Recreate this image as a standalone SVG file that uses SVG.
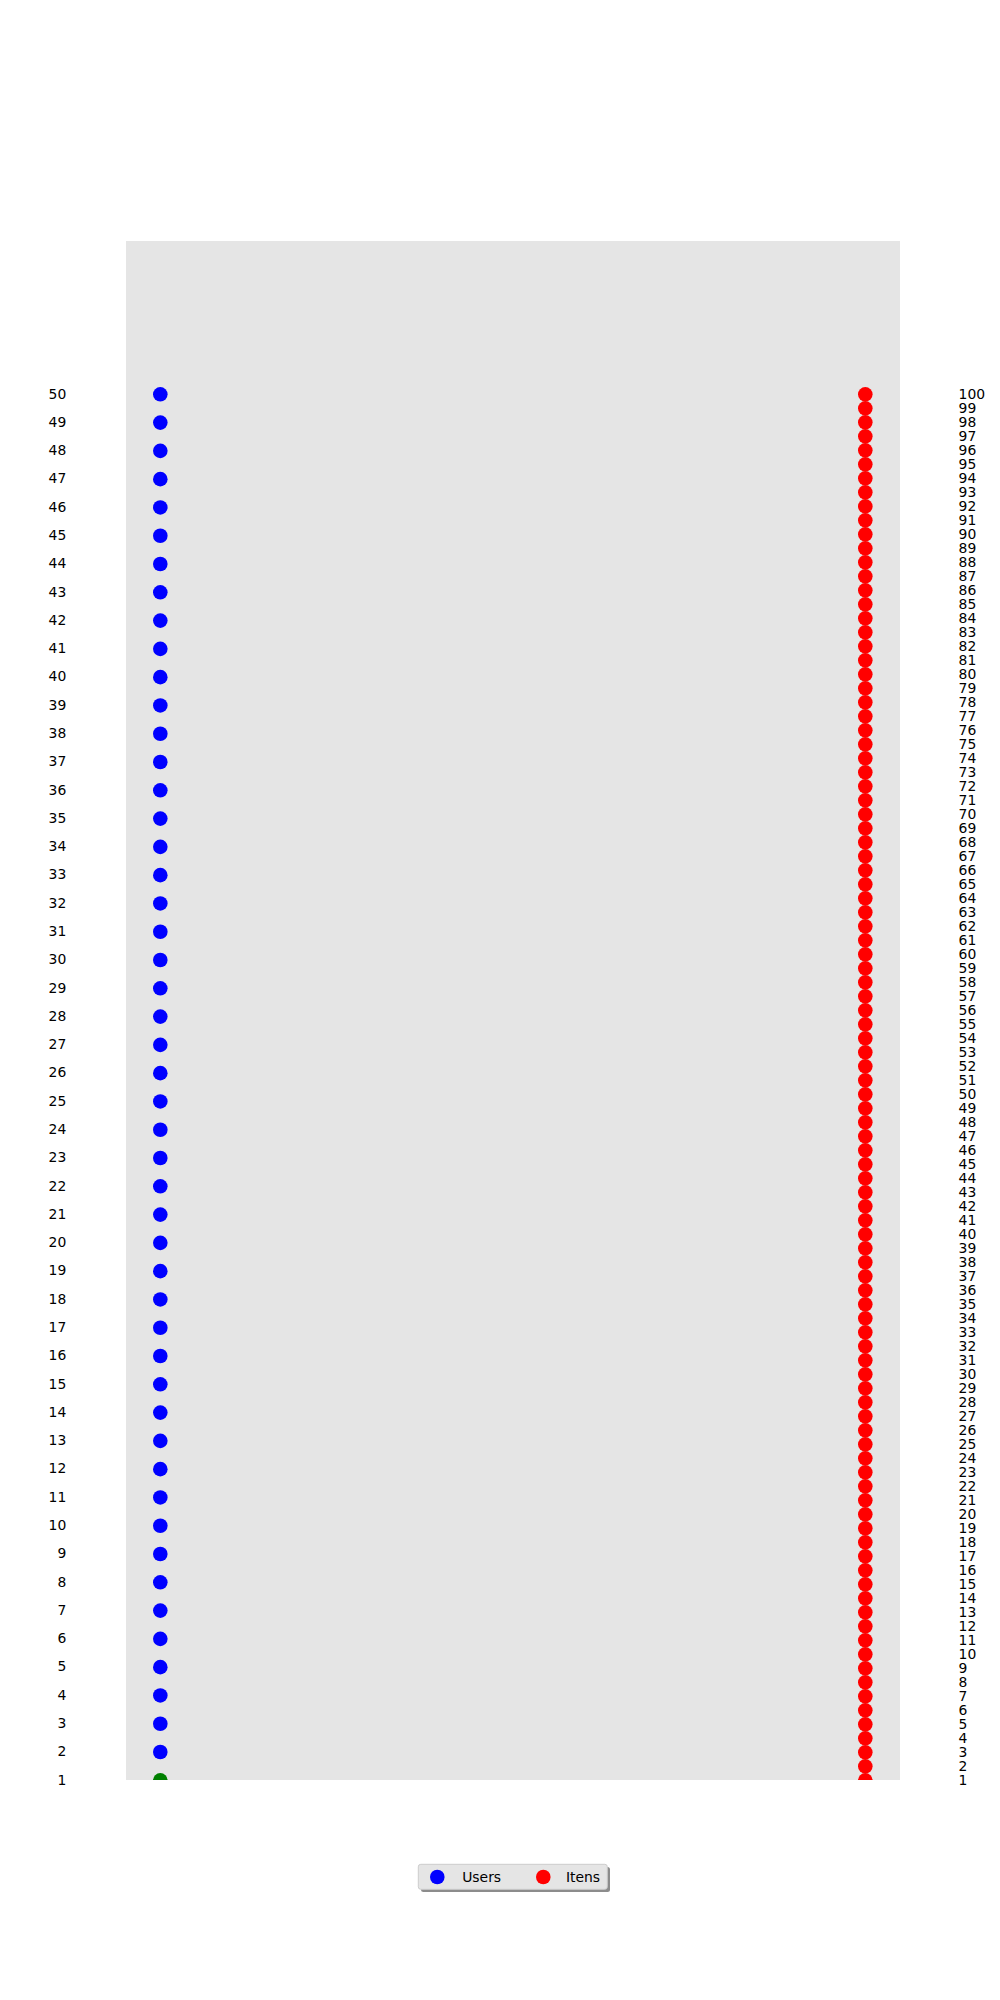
<svg xmlns="http://www.w3.org/2000/svg" width="1000" height="2000" viewBox="0 0 1000 2000">
<style>
.u{fill:#0000ff}
.i{fill:#ff0000}
.g{fill:#008000}
text{font-family:"DejaVu Sans","Liberation Sans",sans-serif;font-size:13.9px;fill:#000}
.ul{text-anchor:end}
.il{text-anchor:start}
.lg{font-size:13.9px}
</style>
<defs>
<clipPath id="ax"><rect x="126" y="241" width="774" height="1539"/></clipPath>
</defs>
<rect width="1000" height="2000" fill="#ffffff"/>
<rect id="axes" x="126" y="241" width="774" height="1539" fill="#e5e5e5"/>
<g id="connectors"></g>
<g id="users">
<g id="user-1"><circle class="g" cx="160.3" cy="1780.3" r="7.3" clip-path="url(#ax)"/><text class="ul" x="66.3" y="1784.6">1</text></g>
<g id="user-2" transform="translate(0,1752.01)"><circle class="u" cx="160.3" r="7.3"/><text class="ul" x="66.3" y="4.3">2</text></g>
<g id="user-3" transform="translate(0,1723.73)"><circle class="u" cx="160.3" r="7.3"/><text class="ul" x="66.3" y="4.3">3</text></g>
<g id="user-4" transform="translate(0,1695.44)"><circle class="u" cx="160.3" r="7.3"/><text class="ul" x="66.3" y="4.3">4</text></g>
<g id="user-5" transform="translate(0,1667.16)"><circle class="u" cx="160.3" r="7.3"/><text class="ul" x="66.3" y="4.3">5</text></g>
<g id="user-6" transform="translate(0,1638.87)"><circle class="u" cx="160.3" r="7.3"/><text class="ul" x="66.3" y="4.3">6</text></g>
<g id="user-7" transform="translate(0,1610.59)"><circle class="u" cx="160.3" r="7.3"/><text class="ul" x="66.3" y="4.3">7</text></g>
<g id="user-8" transform="translate(0,1582.30)"><circle class="u" cx="160.3" r="7.3"/><text class="ul" x="66.3" y="4.3">8</text></g>
<g id="user-9" transform="translate(0,1554.01)"><circle class="u" cx="160.3" r="7.3"/><text class="ul" x="66.3" y="4.3">9</text></g>
<g id="user-10" transform="translate(0,1525.73)"><circle class="u" cx="160.3" r="7.3"/><text class="ul" x="66.3" y="4.3">10</text></g>
<g id="user-11" transform="translate(0,1497.44)"><circle class="u" cx="160.3" r="7.3"/><text class="ul" x="66.3" y="4.3">11</text></g>
<g id="user-12" transform="translate(0,1469.16)"><circle class="u" cx="160.3" r="7.3"/><text class="ul" x="66.3" y="4.3">12</text></g>
<g id="user-13" transform="translate(0,1440.87)"><circle class="u" cx="160.3" r="7.3"/><text class="ul" x="66.3" y="4.3">13</text></g>
<g id="user-14" transform="translate(0,1412.59)"><circle class="u" cx="160.3" r="7.3"/><text class="ul" x="66.3" y="4.3">14</text></g>
<g id="user-15" transform="translate(0,1384.30)"><circle class="u" cx="160.3" r="7.3"/><text class="ul" x="66.3" y="4.3">15</text></g>
<g id="user-16" transform="translate(0,1356.01)"><circle class="u" cx="160.3" r="7.3"/><text class="ul" x="66.3" y="4.3">16</text></g>
<g id="user-17" transform="translate(0,1327.73)"><circle class="u" cx="160.3" r="7.3"/><text class="ul" x="66.3" y="4.3">17</text></g>
<g id="user-18" transform="translate(0,1299.44)"><circle class="u" cx="160.3" r="7.3"/><text class="ul" x="66.3" y="4.3">18</text></g>
<g id="user-19" transform="translate(0,1271.16)"><circle class="u" cx="160.3" r="7.3"/><text class="ul" x="66.3" y="4.3">19</text></g>
<g id="user-20" transform="translate(0,1242.87)"><circle class="u" cx="160.3" r="7.3"/><text class="ul" x="66.3" y="4.3">20</text></g>
<g id="user-21" transform="translate(0,1214.59)"><circle class="u" cx="160.3" r="7.3"/><text class="ul" x="66.3" y="4.3">21</text></g>
<g id="user-22" transform="translate(0,1186.30)"><circle class="u" cx="160.3" r="7.3"/><text class="ul" x="66.3" y="4.3">22</text></g>
<g id="user-23" transform="translate(0,1158.01)"><circle class="u" cx="160.3" r="7.3"/><text class="ul" x="66.3" y="4.3">23</text></g>
<g id="user-24" transform="translate(0,1129.73)"><circle class="u" cx="160.3" r="7.3"/><text class="ul" x="66.3" y="4.3">24</text></g>
<g id="user-25" transform="translate(0,1101.44)"><circle class="u" cx="160.3" r="7.3"/><text class="ul" x="66.3" y="4.3">25</text></g>
<g id="user-26" transform="translate(0,1073.16)"><circle class="u" cx="160.3" r="7.3"/><text class="ul" x="66.3" y="4.3">26</text></g>
<g id="user-27" transform="translate(0,1044.87)"><circle class="u" cx="160.3" r="7.3"/><text class="ul" x="66.3" y="4.3">27</text></g>
<g id="user-28" transform="translate(0,1016.59)"><circle class="u" cx="160.3" r="7.3"/><text class="ul" x="66.3" y="4.3">28</text></g>
<g id="user-29" transform="translate(0,988.30)"><circle class="u" cx="160.3" r="7.3"/><text class="ul" x="66.3" y="4.3">29</text></g>
<g id="user-30" transform="translate(0,960.01)"><circle class="u" cx="160.3" r="7.3"/><text class="ul" x="66.3" y="4.3">30</text></g>
<g id="user-31" transform="translate(0,931.73)"><circle class="u" cx="160.3" r="7.3"/><text class="ul" x="66.3" y="4.3">31</text></g>
<g id="user-32" transform="translate(0,903.44)"><circle class="u" cx="160.3" r="7.3"/><text class="ul" x="66.3" y="4.3">32</text></g>
<g id="user-33" transform="translate(0,875.16)"><circle class="u" cx="160.3" r="7.3"/><text class="ul" x="66.3" y="4.3">33</text></g>
<g id="user-34" transform="translate(0,846.87)"><circle class="u" cx="160.3" r="7.3"/><text class="ul" x="66.3" y="4.3">34</text></g>
<g id="user-35" transform="translate(0,818.59)"><circle class="u" cx="160.3" r="7.3"/><text class="ul" x="66.3" y="4.3">35</text></g>
<g id="user-36" transform="translate(0,790.30)"><circle class="u" cx="160.3" r="7.3"/><text class="ul" x="66.3" y="4.3">36</text></g>
<g id="user-37" transform="translate(0,762.01)"><circle class="u" cx="160.3" r="7.3"/><text class="ul" x="66.3" y="4.3">37</text></g>
<g id="user-38" transform="translate(0,733.73)"><circle class="u" cx="160.3" r="7.3"/><text class="ul" x="66.3" y="4.3">38</text></g>
<g id="user-39" transform="translate(0,705.44)"><circle class="u" cx="160.3" r="7.3"/><text class="ul" x="66.3" y="4.3">39</text></g>
<g id="user-40" transform="translate(0,677.16)"><circle class="u" cx="160.3" r="7.3"/><text class="ul" x="66.3" y="4.3">40</text></g>
<g id="user-41" transform="translate(0,648.87)"><circle class="u" cx="160.3" r="7.3"/><text class="ul" x="66.3" y="4.3">41</text></g>
<g id="user-42" transform="translate(0,620.59)"><circle class="u" cx="160.3" r="7.3"/><text class="ul" x="66.3" y="4.3">42</text></g>
<g id="user-43" transform="translate(0,592.30)"><circle class="u" cx="160.3" r="7.3"/><text class="ul" x="66.3" y="4.3">43</text></g>
<g id="user-44" transform="translate(0,564.01)"><circle class="u" cx="160.3" r="7.3"/><text class="ul" x="66.3" y="4.3">44</text></g>
<g id="user-45" transform="translate(0,535.73)"><circle class="u" cx="160.3" r="7.3"/><text class="ul" x="66.3" y="4.3">45</text></g>
<g id="user-46" transform="translate(0,507.44)"><circle class="u" cx="160.3" r="7.3"/><text class="ul" x="66.3" y="4.3">46</text></g>
<g id="user-47" transform="translate(0,479.16)"><circle class="u" cx="160.3" r="7.3"/><text class="ul" x="66.3" y="4.3">47</text></g>
<g id="user-48" transform="translate(0,450.87)"><circle class="u" cx="160.3" r="7.3"/><text class="ul" x="66.3" y="4.3">48</text></g>
<g id="user-49" transform="translate(0,422.59)"><circle class="u" cx="160.3" r="7.3"/><text class="ul" x="66.3" y="4.3">49</text></g>
<g id="user-50" transform="translate(0,394.30)"><circle class="u" cx="160.3" r="7.3"/><text class="ul" x="66.3" y="4.3">50</text></g>
</g>
<g id="items">
<g id="item-1"><circle class="i" cx="865.3" cy="1780.3" r="7.3" clip-path="url(#ax)"/><text class="il" x="958.6" y="1784.6">1</text></g>
<g id="item-2" transform="translate(0,1766.3)"><circle class="i" cx="865.3" r="7.3"/><text class="il" x="958.6" y="4.3">2</text></g>
<g id="item-3" transform="translate(0,1752.3)"><circle class="i" cx="865.3" r="7.3"/><text class="il" x="958.6" y="4.3">3</text></g>
<g id="item-4" transform="translate(0,1738.3)"><circle class="i" cx="865.3" r="7.3"/><text class="il" x="958.6" y="4.3">4</text></g>
<g id="item-5" transform="translate(0,1724.3)"><circle class="i" cx="865.3" r="7.3"/><text class="il" x="958.6" y="4.3">5</text></g>
<g id="item-6" transform="translate(0,1710.3)"><circle class="i" cx="865.3" r="7.3"/><text class="il" x="958.6" y="4.3">6</text></g>
<g id="item-7" transform="translate(0,1696.3)"><circle class="i" cx="865.3" r="7.3"/><text class="il" x="958.6" y="4.3">7</text></g>
<g id="item-8" transform="translate(0,1682.3)"><circle class="i" cx="865.3" r="7.3"/><text class="il" x="958.6" y="4.3">8</text></g>
<g id="item-9" transform="translate(0,1668.3)"><circle class="i" cx="865.3" r="7.3"/><text class="il" x="958.6" y="4.3">9</text></g>
<g id="item-10" transform="translate(0,1654.3)"><circle class="i" cx="865.3" r="7.3"/><text class="il" x="958.6" y="4.3">10</text></g>
<g id="item-11" transform="translate(0,1640.3)"><circle class="i" cx="865.3" r="7.3"/><text class="il" x="958.6" y="4.3">11</text></g>
<g id="item-12" transform="translate(0,1626.3)"><circle class="i" cx="865.3" r="7.3"/><text class="il" x="958.6" y="4.3">12</text></g>
<g id="item-13" transform="translate(0,1612.3)"><circle class="i" cx="865.3" r="7.3"/><text class="il" x="958.6" y="4.3">13</text></g>
<g id="item-14" transform="translate(0,1598.3)"><circle class="i" cx="865.3" r="7.3"/><text class="il" x="958.6" y="4.3">14</text></g>
<g id="item-15" transform="translate(0,1584.3)"><circle class="i" cx="865.3" r="7.3"/><text class="il" x="958.6" y="4.3">15</text></g>
<g id="item-16" transform="translate(0,1570.3)"><circle class="i" cx="865.3" r="7.3"/><text class="il" x="958.6" y="4.3">16</text></g>
<g id="item-17" transform="translate(0,1556.3)"><circle class="i" cx="865.3" r="7.3"/><text class="il" x="958.6" y="4.3">17</text></g>
<g id="item-18" transform="translate(0,1542.3)"><circle class="i" cx="865.3" r="7.3"/><text class="il" x="958.6" y="4.3">18</text></g>
<g id="item-19" transform="translate(0,1528.3)"><circle class="i" cx="865.3" r="7.3"/><text class="il" x="958.6" y="4.3">19</text></g>
<g id="item-20" transform="translate(0,1514.3)"><circle class="i" cx="865.3" r="7.3"/><text class="il" x="958.6" y="4.3">20</text></g>
<g id="item-21" transform="translate(0,1500.3)"><circle class="i" cx="865.3" r="7.3"/><text class="il" x="958.6" y="4.3">21</text></g>
<g id="item-22" transform="translate(0,1486.3)"><circle class="i" cx="865.3" r="7.3"/><text class="il" x="958.6" y="4.3">22</text></g>
<g id="item-23" transform="translate(0,1472.3)"><circle class="i" cx="865.3" r="7.3"/><text class="il" x="958.6" y="4.3">23</text></g>
<g id="item-24" transform="translate(0,1458.3)"><circle class="i" cx="865.3" r="7.3"/><text class="il" x="958.6" y="4.3">24</text></g>
<g id="item-25" transform="translate(0,1444.3)"><circle class="i" cx="865.3" r="7.3"/><text class="il" x="958.6" y="4.3">25</text></g>
<g id="item-26" transform="translate(0,1430.3)"><circle class="i" cx="865.3" r="7.3"/><text class="il" x="958.6" y="4.3">26</text></g>
<g id="item-27" transform="translate(0,1416.3)"><circle class="i" cx="865.3" r="7.3"/><text class="il" x="958.6" y="4.3">27</text></g>
<g id="item-28" transform="translate(0,1402.3)"><circle class="i" cx="865.3" r="7.3"/><text class="il" x="958.6" y="4.3">28</text></g>
<g id="item-29" transform="translate(0,1388.3)"><circle class="i" cx="865.3" r="7.3"/><text class="il" x="958.6" y="4.3">29</text></g>
<g id="item-30" transform="translate(0,1374.3)"><circle class="i" cx="865.3" r="7.3"/><text class="il" x="958.6" y="4.3">30</text></g>
<g id="item-31" transform="translate(0,1360.3)"><circle class="i" cx="865.3" r="7.3"/><text class="il" x="958.6" y="4.3">31</text></g>
<g id="item-32" transform="translate(0,1346.3)"><circle class="i" cx="865.3" r="7.3"/><text class="il" x="958.6" y="4.3">32</text></g>
<g id="item-33" transform="translate(0,1332.3)"><circle class="i" cx="865.3" r="7.3"/><text class="il" x="958.6" y="4.3">33</text></g>
<g id="item-34" transform="translate(0,1318.3)"><circle class="i" cx="865.3" r="7.3"/><text class="il" x="958.6" y="4.3">34</text></g>
<g id="item-35" transform="translate(0,1304.3)"><circle class="i" cx="865.3" r="7.3"/><text class="il" x="958.6" y="4.3">35</text></g>
<g id="item-36" transform="translate(0,1290.3)"><circle class="i" cx="865.3" r="7.3"/><text class="il" x="958.6" y="4.3">36</text></g>
<g id="item-37" transform="translate(0,1276.3)"><circle class="i" cx="865.3" r="7.3"/><text class="il" x="958.6" y="4.3">37</text></g>
<g id="item-38" transform="translate(0,1262.3)"><circle class="i" cx="865.3" r="7.3"/><text class="il" x="958.6" y="4.3">38</text></g>
<g id="item-39" transform="translate(0,1248.3)"><circle class="i" cx="865.3" r="7.3"/><text class="il" x="958.6" y="4.3">39</text></g>
<g id="item-40" transform="translate(0,1234.3)"><circle class="i" cx="865.3" r="7.3"/><text class="il" x="958.6" y="4.3">40</text></g>
<g id="item-41" transform="translate(0,1220.3)"><circle class="i" cx="865.3" r="7.3"/><text class="il" x="958.6" y="4.3">41</text></g>
<g id="item-42" transform="translate(0,1206.3)"><circle class="i" cx="865.3" r="7.3"/><text class="il" x="958.6" y="4.3">42</text></g>
<g id="item-43" transform="translate(0,1192.3)"><circle class="i" cx="865.3" r="7.3"/><text class="il" x="958.6" y="4.3">43</text></g>
<g id="item-44" transform="translate(0,1178.3)"><circle class="i" cx="865.3" r="7.3"/><text class="il" x="958.6" y="4.3">44</text></g>
<g id="item-45" transform="translate(0,1164.3)"><circle class="i" cx="865.3" r="7.3"/><text class="il" x="958.6" y="4.3">45</text></g>
<g id="item-46" transform="translate(0,1150.3)"><circle class="i" cx="865.3" r="7.3"/><text class="il" x="958.6" y="4.3">46</text></g>
<g id="item-47" transform="translate(0,1136.3)"><circle class="i" cx="865.3" r="7.3"/><text class="il" x="958.6" y="4.3">47</text></g>
<g id="item-48" transform="translate(0,1122.3)"><circle class="i" cx="865.3" r="7.3"/><text class="il" x="958.6" y="4.3">48</text></g>
<g id="item-49" transform="translate(0,1108.3)"><circle class="i" cx="865.3" r="7.3"/><text class="il" x="958.6" y="4.3">49</text></g>
<g id="item-50" transform="translate(0,1094.3)"><circle class="i" cx="865.3" r="7.3"/><text class="il" x="958.6" y="4.3">50</text></g>
<g id="item-51" transform="translate(0,1080.3)"><circle class="i" cx="865.3" r="7.3"/><text class="il" x="958.6" y="4.3">51</text></g>
<g id="item-52" transform="translate(0,1066.3)"><circle class="i" cx="865.3" r="7.3"/><text class="il" x="958.6" y="4.3">52</text></g>
<g id="item-53" transform="translate(0,1052.3)"><circle class="i" cx="865.3" r="7.3"/><text class="il" x="958.6" y="4.3">53</text></g>
<g id="item-54" transform="translate(0,1038.3)"><circle class="i" cx="865.3" r="7.3"/><text class="il" x="958.6" y="4.3">54</text></g>
<g id="item-55" transform="translate(0,1024.3)"><circle class="i" cx="865.3" r="7.3"/><text class="il" x="958.6" y="4.3">55</text></g>
<g id="item-56" transform="translate(0,1010.3)"><circle class="i" cx="865.3" r="7.3"/><text class="il" x="958.6" y="4.3">56</text></g>
<g id="item-57" transform="translate(0,996.3)"><circle class="i" cx="865.3" r="7.3"/><text class="il" x="958.6" y="4.3">57</text></g>
<g id="item-58" transform="translate(0,982.3)"><circle class="i" cx="865.3" r="7.3"/><text class="il" x="958.6" y="4.3">58</text></g>
<g id="item-59" transform="translate(0,968.3)"><circle class="i" cx="865.3" r="7.3"/><text class="il" x="958.6" y="4.3">59</text></g>
<g id="item-60" transform="translate(0,954.3)"><circle class="i" cx="865.3" r="7.3"/><text class="il" x="958.6" y="4.3">60</text></g>
<g id="item-61" transform="translate(0,940.3)"><circle class="i" cx="865.3" r="7.3"/><text class="il" x="958.6" y="4.3">61</text></g>
<g id="item-62" transform="translate(0,926.3)"><circle class="i" cx="865.3" r="7.3"/><text class="il" x="958.6" y="4.3">62</text></g>
<g id="item-63" transform="translate(0,912.3)"><circle class="i" cx="865.3" r="7.3"/><text class="il" x="958.6" y="4.3">63</text></g>
<g id="item-64" transform="translate(0,898.3)"><circle class="i" cx="865.3" r="7.3"/><text class="il" x="958.6" y="4.3">64</text></g>
<g id="item-65" transform="translate(0,884.3)"><circle class="i" cx="865.3" r="7.3"/><text class="il" x="958.6" y="4.3">65</text></g>
<g id="item-66" transform="translate(0,870.3)"><circle class="i" cx="865.3" r="7.3"/><text class="il" x="958.6" y="4.3">66</text></g>
<g id="item-67" transform="translate(0,856.3)"><circle class="i" cx="865.3" r="7.3"/><text class="il" x="958.6" y="4.3">67</text></g>
<g id="item-68" transform="translate(0,842.3)"><circle class="i" cx="865.3" r="7.3"/><text class="il" x="958.6" y="4.3">68</text></g>
<g id="item-69" transform="translate(0,828.3)"><circle class="i" cx="865.3" r="7.3"/><text class="il" x="958.6" y="4.3">69</text></g>
<g id="item-70" transform="translate(0,814.3)"><circle class="i" cx="865.3" r="7.3"/><text class="il" x="958.6" y="4.3">70</text></g>
<g id="item-71" transform="translate(0,800.3)"><circle class="i" cx="865.3" r="7.3"/><text class="il" x="958.6" y="4.3">71</text></g>
<g id="item-72" transform="translate(0,786.3)"><circle class="i" cx="865.3" r="7.3"/><text class="il" x="958.6" y="4.3">72</text></g>
<g id="item-73" transform="translate(0,772.3)"><circle class="i" cx="865.3" r="7.3"/><text class="il" x="958.6" y="4.3">73</text></g>
<g id="item-74" transform="translate(0,758.3)"><circle class="i" cx="865.3" r="7.3"/><text class="il" x="958.6" y="4.3">74</text></g>
<g id="item-75" transform="translate(0,744.3)"><circle class="i" cx="865.3" r="7.3"/><text class="il" x="958.6" y="4.3">75</text></g>
<g id="item-76" transform="translate(0,730.3)"><circle class="i" cx="865.3" r="7.3"/><text class="il" x="958.6" y="4.3">76</text></g>
<g id="item-77" transform="translate(0,716.3)"><circle class="i" cx="865.3" r="7.3"/><text class="il" x="958.6" y="4.3">77</text></g>
<g id="item-78" transform="translate(0,702.3)"><circle class="i" cx="865.3" r="7.3"/><text class="il" x="958.6" y="4.3">78</text></g>
<g id="item-79" transform="translate(0,688.3)"><circle class="i" cx="865.3" r="7.3"/><text class="il" x="958.6" y="4.3">79</text></g>
<g id="item-80" transform="translate(0,674.3)"><circle class="i" cx="865.3" r="7.3"/><text class="il" x="958.6" y="4.3">80</text></g>
<g id="item-81" transform="translate(0,660.3)"><circle class="i" cx="865.3" r="7.3"/><text class="il" x="958.6" y="4.3">81</text></g>
<g id="item-82" transform="translate(0,646.3)"><circle class="i" cx="865.3" r="7.3"/><text class="il" x="958.6" y="4.3">82</text></g>
<g id="item-83" transform="translate(0,632.3)"><circle class="i" cx="865.3" r="7.3"/><text class="il" x="958.6" y="4.3">83</text></g>
<g id="item-84" transform="translate(0,618.3)"><circle class="i" cx="865.3" r="7.3"/><text class="il" x="958.6" y="4.3">84</text></g>
<g id="item-85" transform="translate(0,604.3)"><circle class="i" cx="865.3" r="7.3"/><text class="il" x="958.6" y="4.3">85</text></g>
<g id="item-86" transform="translate(0,590.3)"><circle class="i" cx="865.3" r="7.3"/><text class="il" x="958.6" y="4.3">86</text></g>
<g id="item-87" transform="translate(0,576.3)"><circle class="i" cx="865.3" r="7.3"/><text class="il" x="958.6" y="4.3">87</text></g>
<g id="item-88" transform="translate(0,562.3)"><circle class="i" cx="865.3" r="7.3"/><text class="il" x="958.6" y="4.3">88</text></g>
<g id="item-89" transform="translate(0,548.3)"><circle class="i" cx="865.3" r="7.3"/><text class="il" x="958.6" y="4.3">89</text></g>
<g id="item-90" transform="translate(0,534.3)"><circle class="i" cx="865.3" r="7.3"/><text class="il" x="958.6" y="4.3">90</text></g>
<g id="item-91" transform="translate(0,520.3)"><circle class="i" cx="865.3" r="7.3"/><text class="il" x="958.6" y="4.3">91</text></g>
<g id="item-92" transform="translate(0,506.3)"><circle class="i" cx="865.3" r="7.3"/><text class="il" x="958.6" y="4.3">92</text></g>
<g id="item-93" transform="translate(0,492.3)"><circle class="i" cx="865.3" r="7.3"/><text class="il" x="958.6" y="4.3">93</text></g>
<g id="item-94" transform="translate(0,478.3)"><circle class="i" cx="865.3" r="7.3"/><text class="il" x="958.6" y="4.3">94</text></g>
<g id="item-95" transform="translate(0,464.3)"><circle class="i" cx="865.3" r="7.3"/><text class="il" x="958.6" y="4.3">95</text></g>
<g id="item-96" transform="translate(0,450.3)"><circle class="i" cx="865.3" r="7.3"/><text class="il" x="958.6" y="4.3">96</text></g>
<g id="item-97" transform="translate(0,436.3)"><circle class="i" cx="865.3" r="7.3"/><text class="il" x="958.6" y="4.3">97</text></g>
<g id="item-98" transform="translate(0,422.3)"><circle class="i" cx="865.3" r="7.3"/><text class="il" x="958.6" y="4.3">98</text></g>
<g id="item-99" transform="translate(0,408.3)"><circle class="i" cx="865.3" r="7.3"/><text class="il" x="958.6" y="4.3">99</text></g>
<g id="item-100" transform="translate(0,394.3)"><circle class="i" cx="865.3" r="7.3"/><text class="il" x="958.6" y="4.3">100</text></g>
</g>
<g id="legend">
<rect x="421" y="1867" width="189" height="25" rx="2.5" fill="#8c8c8c"/>
<rect x="418.3" y="1864.3" width="189" height="25" rx="2.5" fill="#e5e5e5" stroke="#cccccc" stroke-width="1"/>
<circle class="u" cx="437.3" cy="1877" r="7.3"/>
<text class="lg" x="462.2" y="1881.8">Users</text>
<circle class="i" cx="543.3" cy="1877" r="7.3"/>
<text class="lg" x="565.9" y="1881.8">Itens</text>
</g>
</svg>
